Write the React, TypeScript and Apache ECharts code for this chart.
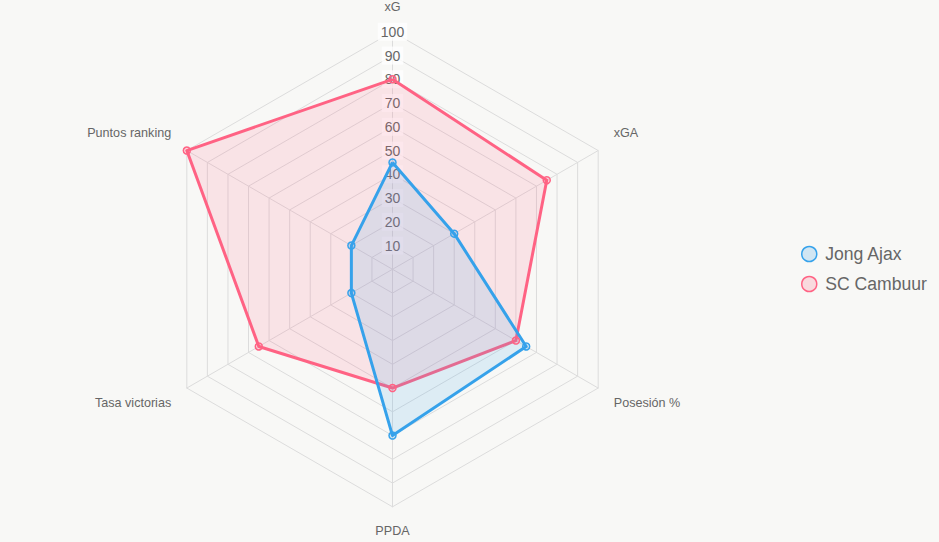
import React, { useEffect, useRef } from "react";
import * as echarts from "echarts";

// Indicators listed in ECharts' (counter-clockwise from top) order
const indicatorNames = ["xG", "Puntos ranking", "Tasa victorias", "PPDA", "Posesión %", "xGA"];
const axisMax = 100;
const teamNames = ["Jong Ajax", "SC Cambuur"];
const jongAjax = [45, 20, 20, 70, 65, 30];
const scCambuur = [80, 100, 65, 50, 60, 75];

const FONT = "'Liberation Sans', Arial, Helvetica, sans-serif";
const BLUE = "#36a2eb";
const BLUE_FILL = "rgba(54,162,235,0.2)";
const RED = "#ff6384";
const RED_FILL = "rgba(255,99,132,0.2)";

const nameStyleKey: Record<string, string> = {
  "xG": "n",
  "Puntos ranking": "up",
  "Tasa victorias": "down",
  "PPDA": "n",
  "Posesión %": "down",
  "xGA": "up",
};

export default function App() {
  const ref = useRef<HTMLDivElement>(null);
  useEffect(() => {
    if (!ref.current) return;
    const chart = echarts.init(ref.current, undefined, { renderer: "svg" });
    const indicators = indicatorNames.map((n, i) => {
      const o: any = { name: n, max: axisMax, min: 0 };
      if (i === 0) {
        o.axisLabel = {
          show: true,
          showMinLabel: false,
          margin: 0,
          align: "center",
          verticalAlign: "middle",
          color: "#666",
          fontSize: 14,
          fontFamily: FONT,
          backgroundColor: "rgba(255,255,255,0.75)",
          padding: [2, 3],
        };
      }
      return o;
    });
    const base = { color: "#666", fontSize: 12.6, fontFamily: FONT };
    chart.setOption({
      animation: false,
      backgroundColor: "#f8f8f6",
      legend: {
        data: [
          { name: teamNames[0], itemStyle: { color: BLUE_FILL, borderColor: BLUE, borderWidth: 1.5 } },
          { name: teamNames[1], itemStyle: { color: RED_FILL, borderColor: RED, borderWidth: 1.5 } },
        ],
        orient: "vertical",
        left: 796,
        top: 240,
        icon: "circle",
        itemWidth: 20,
        itemHeight: 15,
        itemGap: 12,
        textStyle: { color: "#666", fontSize: 17.6, fontFamily: FONT, padding: [0, 0, 0, 1] },
      },
      radar: {
        center: [392.5, 269.3],
        radius: 237.5,
        startAngle: 90,
        splitNumber: 10,
        shape: "polygon",
        nameGap: 18,
        axisName: {
          ...base,
          formatter: (name: string) => `{${nameStyleKey[name] || "n"}|${name}}`,
          rich: {
            n: { ...base },
            up: { ...base, padding: [0, 0, 17, 0] },
            down: { ...base, padding: [12, 0, 0, 0] },
          },
        },
        axisLine: { lineStyle: { color: "#dcdcdc", width: 1 } },
        splitLine: { lineStyle: { color: "#dcdcdc", width: 1 } },
        splitArea: { show: false },
        axisTick: { show: false },
        axisLabel: { show: false },
        indicator: indicators,
      },
      series: [
        {
          type: "radar",
          data: [
            {
              name: teamNames[1],
              value: scCambuur,
              symbol: "circle",
              symbolSize: 7,
              lineStyle: { color: RED, width: 3 },
              itemStyle: { color: RED_FILL, borderColor: RED, borderWidth: 1.5 },
              areaStyle: { color: RED_FILL },
            },
          ],
        },
        {
          type: "radar",
          data: [
            {
              name: teamNames[0],
              value: jongAjax,
              symbol: "circle",
              symbolSize: 7,
              lineStyle: { color: BLUE, width: 3 },
              itemStyle: { color: BLUE_FILL, borderColor: BLUE, borderWidth: 1.5 },
              areaStyle: { color: BLUE_FILL },
            },
          ],
        },
      ],
    });
    return () => chart.dispose();
  }, []);
  return (
    <div
      ref={ref}
      style={{ position: "fixed", left: 0, top: 0, width: 939, height: 542 }}
    />
  );
}
